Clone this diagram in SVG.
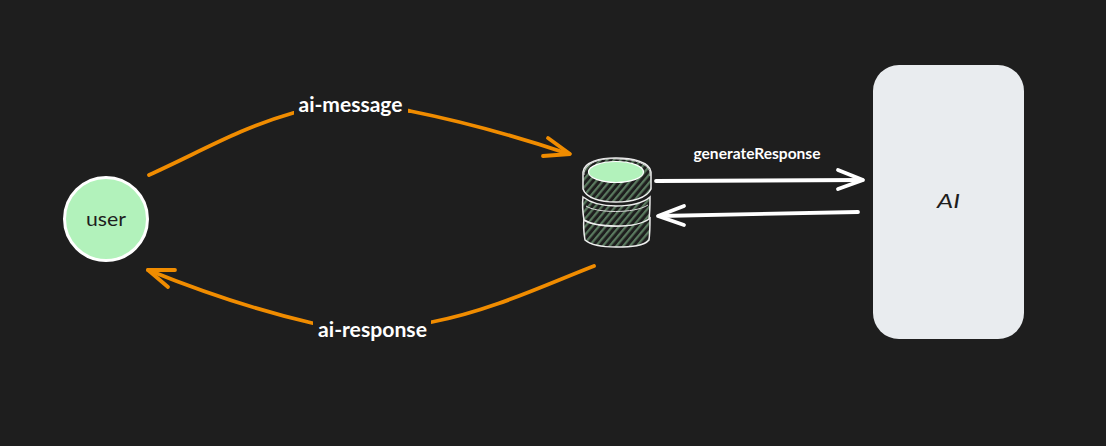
<svg xmlns="http://www.w3.org/2000/svg" width="1106" height="446" viewBox="0 0 1106 446">
<style>
text{font-family:"Lato","Open Sans",sans-serif;text-anchor:middle}
.lab{fill:#fff;font-weight:700;font-size:20.5px}
.o{fill:none;stroke:#f08c00;stroke-width:3.8;stroke-linecap:round;stroke-linejoin:round}
.w{fill:none;stroke:#fff;stroke-width:3.8;stroke-linecap:round;stroke-linejoin:round}
.c{fill:url(#h);stroke:#eeeeee;stroke-width:1.5}
.r{fill:none;stroke:#d8d8d8;stroke-width:1}
.m{fill:#1e1e1e}
</style>
<defs>
<pattern id="h" width="5.2" height="5.2" patternUnits="userSpaceOnUse" patternTransform="rotate(40)">
<rect width="5.2" height="5.2" fill="#1e1e1e"/>
<rect width="2.2" height="5.2" fill="#5a7a5f"/>
</pattern>
</defs>
<rect width="1106" height="446" fill="#1e1e1e"/>
<g id="connectors">
<path class="o" d="M149 175C200 152 240 128 293 113C330 103 370 105 410 111C460 121 515 136 569 154"/>
<path class="o" d="M548 138L570 154L543 156"/>
<path class="o" d="M594 266C545 285 490 311 432 322C390 330 350 331 312 323C260 311 205 293 148 270"/>
<path class="o" d="M175 270L148 270L168 287"/>
<path class="w" d="M656 181L862 180"/>
<path class="w" d="M838 170L863 180L838 189"/>
<path class="w" d="M858 212L660 216"/>
<path class="w" d="M684 206L658 216L684 225"/>
</g>
<rect class="m" x="294" y="92" width="114" height="30"/>
<rect class="m" x="313" y="317" width="118" height="30"/>
<text class="lab" x="350.5" y="112" textLength="104" lengthAdjust="spacingAndGlyphs">ai-message</text>
<text class="lab" x="372.5" y="337" textLength="109" lengthAdjust="spacingAndGlyphs">ai-response</text>
<text x="757" y="159" fill="#fff" font-size="15.5" font-weight="700" textLength="127" lengthAdjust="spacingAndGlyphs">generateResponse</text>
<g id="user">
<circle cx="106" cy="219" r="41.5" fill="#b2f2bb" stroke="#fff" stroke-width="3"/>
<text x="106" y="226" fill="#1e1e1e" font-size="20" textLength="40" lengthAdjust="spacingAndGlyphs">user</text>
</g>
<g id="db">
<path class="c" d="M584 219C583 226 584 234 585 240C592 246 604 247 616 247C632 247 644 246 649 240C650 232 650 226 650 218C640 225 628 226 616 226C604 226 592 225 584 219Z"/>
<path class="c" d="M583 197C582 205 583 214 584 220C592 225 604 226 616 226C632 226 642 224 649 219C650 212 650 204 650 197C642 204 628 206 616 206C604 206 592 204 583 197Z"/>
<path class="c" d="M583 172V189C586 198 600 202 616 202C632 202 647 198 651 189V172C650 162 632 158 616 158C600 158 584 162 583 172Z"/>
<path class="r" d="M584 175C583 163 602 157 618 159C634 159 652 164 650 176"/>
<path class="r" d="M586 206C596 213 634 214 648 205"/>
<ellipse cx="616" cy="172" rx="27.5" ry="10.5" fill="#b2f2bb" stroke="#fff" stroke-width="1.2"/>
</g>
<g id="ai">
<rect x="873" y="65" width="151" height="274" rx="26" fill="#e9ecef"/>
<text x="948.5" y="208" fill="#1e1e1e" font-size="20" font-style="italic" textLength="23" lengthAdjust="spacingAndGlyphs">AI</text>
</g>
</svg>
